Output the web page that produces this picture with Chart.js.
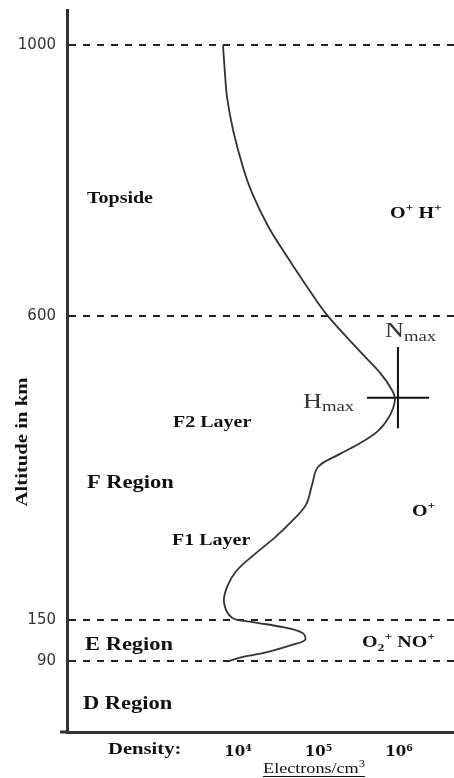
<!DOCTYPE html>
<html>
<head>
<meta charset="utf-8">
<script src="https://cdn.jsdelivr.net/npm/chart.js@4.4.1/dist/chart.umd.min.js"></script>
<style>
  body { margin: 0; background: #fff; }
  canvas { display: block; }
</style>
</head>
<body>
<canvas id="iono_chart" width="454" height="778"></canvas>
<script>
// electron density profile (altitude km / electrons per cm3)
const altitudeKm = [1000, 956, 923, 874, 820, 781, 731, 687, 643, 601, 547, 516, 490, 476, 453, 430, 412, 396, 377, 350, 321, 297, 273, 250, 224, 199, 176, 154, 148, 140, 131, 121, 114, 103, 96, 89];
const densityCm3 = [6.5e3, 6.9e3, 7.3e3, 8.7e3, 1.15e4, 1.5e4, 2.4e4, 4.1e4, 7.2e4, 1.28e5, 3.3e5, 5.8e5, 8.2e5, 8.9e5, 7.7e5, 5.5e5, 3.3e5, 1.85e5, 9.9e4, 8.3e4, 7.0e4, 4.7e4, 2.9e4, 1.7e4, 9.7e3, 7.3e3, 6.7e3, 8.4e3, 1.4e4, 3.6e4, 6.4e4, 6.8e4, 4.8e4, 2.3e4, 1.15e4, 7.3e3];

// Nmax / Hmax cross
const hmaxAlt = 479;
const nmaxDensity = 9.7e5;
const crossDensity = [4.0e5, 2.36e6];
const crossAlt = [554, 434];

const altTicks = [90, 150, 600, 1000];
const densTicks = [1e4, 1e5, 1e6];
const densTickLabels = ["10⁴", "10⁵", "10⁶"];

const SERIF = "'Liberation Serif', 'Times New Roman', serif";
const SX = 1.25; // the scan is a bit wide, stretch the labels

// [text, size, dy, weight]
const notes = [
    { x: 87, y: 203, parts: [["Topside", 16]] },
    { x: 390, y: 218, parts: [["O", 16], ["+", 11, -7], [" H", 16], ["+", 11, -7]] },
    { x: 385, y: 337, color: "#333", parts: [["N", 21, 0, "normal"], ["max", 15, 4, "normal"]] },
    { x: 303, y: 408, color: "#333", parts: [["H", 21, 0, "normal"], ["max", 15, 3, "normal"]] },
    { x: 173, y: 427, parts: [["F2 Layer", 16]] },
    { x: 87, y: 488, parts: [["F Region", 18]] },
    { x: 412, y: 516, parts: [["O", 16], ["+", 11, -7]] },
    { x: 172, y: 545, parts: [["F1 Layer", 16]] },
    { x: 362, y: 647, parts: [["O", 16], ["2", 11, 4], ["+", 11, -7], [" NO", 16], ["+", 11, -7]] },
    { x: 85, y: 650, parts: [["E Region", 18]] },
    { x: 83, y: 709, parts: [["D Region", 18]] },
    { x: 108, y: 754, parts: [["Density:", 16.5]] },
];

function drawRuns(ctx, x, y, parts, color) {
    ctx.save();
    ctx.fillStyle = color || "#111";
    ctx.textBaseline = "alphabetic";
    ctx.textAlign = "left";
    let cx = x;
    parts.forEach(function (p) {
        ctx.font = (p[3] || "bold") + " " + p[1] + "px " + SERIF;
        ctx.save();
        ctx.translate(cx, y + (p[2] || 0));
        ctx.scale(SX, 1);
        ctx.fillText(p[0], 0, 0);
        ctx.restore();
        cx += ctx.measureText(p[0]).width * SX;
    });
    ctx.restore();
    return cx;
}

const labelsPlugin = {
    id: "labels",
    afterDraw(chart) {
        const ctx = chart.ctx;
        const area = chart.chartArea;

        notes.forEach((n) => drawRuns(ctx, n.x, n.y, n.parts, n.color));

        // y title, not centred on the axis in the original
        ctx.save();
        ctx.fillStyle = "#111";
        ctx.font = "bold 16px " + SERIF;
        ctx.textAlign = "center";
        ctx.textBaseline = "middle";
        const w = ctx.measureText("Altitude in km").width;
        ctx.translate(23, 442);
        ctx.rotate(-Math.PI / 2);
        ctx.scale(129 / w, 1);
        ctx.fillText("Altitude in km", 0, 0);
        ctx.restore();

        // unit under the density ticks, underlined
        ctx.save();
        ctx.font = "14.5px " + SERIF;
        const uw = ctx.measureText("Electrons/cm").width * SX;
        ctx.font = "10px " + SERIF;
        const sw = ctx.measureText("3").width * SX;
        const ux = 314 - (uw + sw) / 2;
        ctx.restore();
        const endX = drawRuns(ctx, ux, 773, [["Electrons/cm", 14.5, 0, "normal"], ["3", 10, -6, "normal"]]);
        ctx.save();
        ctx.strokeStyle = "#111";
        ctx.lineWidth = 1;
        ctx.beginPath();
        ctx.moveTo(ux, 776.5);
        ctx.lineTo(endX, 776.5);
        ctx.stroke();

        // x axis line runs a little past the y axis
        ctx.strokeStyle = "#333";
        ctx.lineWidth = 3;
        ctx.beginPath();
        ctx.moveTo(area.left - 7, area.bottom);
        ctx.lineTo(area.left, area.bottom);
        ctx.stroke();
        ctx.restore();
    },
};

var ctxIono = document.getElementById("iono_chart").getContext("2d");

new Chart(ctxIono, {
    type: "scatter",
    data: {
        datasets: [
            {
                data: altitudeKm.map((a, i) => ({ x: densityCm3[i], y: a })),
                showLine: true,
                borderColor: "#333",
                borderWidth: 1.8,
                pointRadius: 0,
                tension: 0.35,
            },
            {
                data: crossDensity.map((d) => ({ x: d, y: hmaxAlt })),
                showLine: true,
                borderColor: "#111",
                borderWidth: 2,
                pointRadius: 0,
            },
            {
                data: crossAlt.map((a) => ({ x: nmaxDensity, y: a })),
                showLine: true,
                borderColor: "#111",
                borderWidth: 2,
                pointRadius: 0,
            },
        ],
    },
    options: {
        responsive: false,
        animation: false,
        devicePixelRatio: 1,
        layout: { padding: { top: 10, left: 0, right: 0, bottom: 0 } },
        plugins: { legend: { display: false }, tooltip: { enabled: false } },
        scales: {
            x: {
                type: "logarithmic",
                min: 75,
                max: 4.82e6,
                afterBuildTicks: (s) => { s.ticks = densTicks.map((v) => ({ value: v })); },
                afterFit: (s) => { s.height = 46; },
                grid: { display: false },
                border: { display: true, color: "#333", width: 3 },
                ticks: {
                    autoSkip: false,
                    maxRotation: 0,
                    padding: 3,
                    color: "#111",
                    font: { family: "'DejaVu Serif', serif", size: 15, weight: "bold" },
                    callback: (value, index) => densTickLabels[index],
                },
            },
            y: {
                type: "linear",
                min: -15,
                max: 1052,
                afterBuildTicks: (s) => { s.ticks = altTicks.map((v) => ({ value: v })); },
                // drop the extra padding chart.js keeps for the end labels
                afterFit: (s) => { s.width = 67; s.paddingTop = 0; s.paddingBottom = 0; },
                grid: { color: "#222", lineWidth: 2, drawTicks: false },
                border: { display: true, color: "#333", width: 3, dash: [7, 7] },
                ticks: {
                    padding: 11,
                    color: "#333",
                    font: { family: "'DejaVu Sans', sans-serif", size: 15 },
                    callback: (value) => value,
                },
            },
        },
    },
    plugins: [labelsPlugin],
});
</script>
</body>
</html>
